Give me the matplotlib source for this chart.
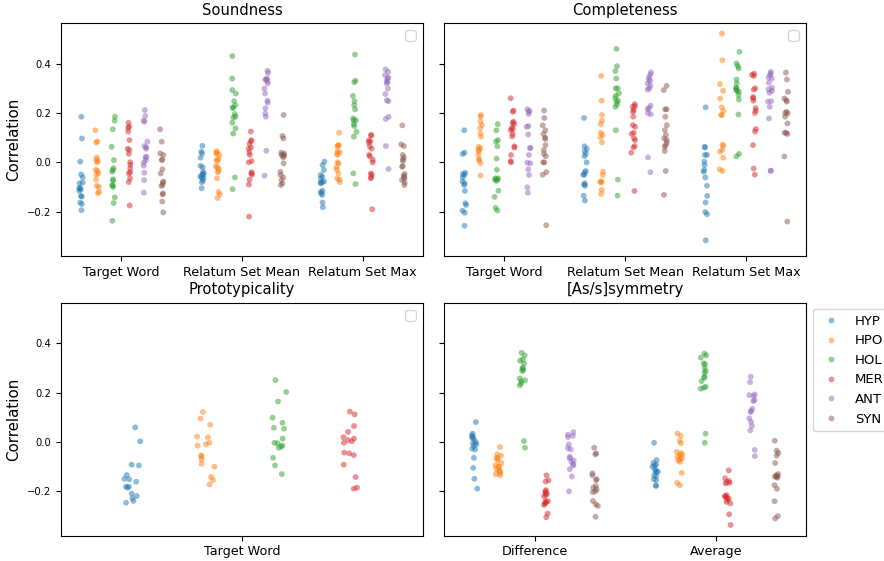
import matplotlib
matplotlib.use("Agg")
import matplotlib.pyplot as plt
import numpy as np
import pandas as pd
import seaborn as sns

relations = ["HYP", "HPO", "HOL", "MER", "ANT", "SYN"]

# Soundness
sound_target = {
    "HYP": [0.185, 0.097, 0.003, -0.049, -0.061, -0.082, -0.085, -0.103, -0.105, -0.11, -0.115, -0.136, -0.139, -0.163, -0.169, -0.194],
    "HPO": [0.13, 0.085, 0.08, 0.02, 0.01, 0.005, 0.0, -0.03, -0.035, -0.045, -0.05, -0.07, -0.095, -0.10, -0.12, -0.125],
    "HOL": [0.185, 0.169, 0.134, 0.063, 0.009, -0.024, -0.031, -0.038, -0.069, -0.074, -0.092, -0.094, -0.10, -0.142, -0.165, -0.237],
    "MER": [0.16, 0.145, 0.14, 0.125, 0.09, 0.055, 0.05, 0.035, 0.0, -0.01, -0.025, -0.04, -0.045, -0.065, -0.08, -0.175],
    "ANT": [0.212, 0.188, 0.169, 0.165, 0.084, 0.066, 0.061, 0.055, 0.023, 0.020, 0.009, -0.001, -0.014, -0.042, -0.072, -0.123],
    "SYN": [0.134, 0.084, 0.036, 0.03, 0.012, 0.009, -0.028, -0.045, -0.078, -0.082, -0.092, -0.095, -0.126, -0.130, -0.159, -0.203],
}
sound_mean = {
    "HYP": [0.067, 0.043, 0.036, 0.019, -0.014, -0.020, -0.038, -0.045, -0.05, -0.051, -0.058, -0.061, -0.065, -0.074, -0.081, -0.105],
    "HPO": [0.045, 0.04, 0.035, 0.03, 0.015, 0.01, 0.005, -0.015, -0.02, -0.025, -0.035, -0.04, -0.065, -0.12, -0.13, -0.145],
    "HOL": [0.431, 0.340, 0.293, 0.279, 0.248, 0.232, 0.223, 0.22, 0.196, 0.185, 0.182, 0.161, 0.138, 0.117, -0.061, -0.109],
    "MER": [0.125, 0.09, 0.085, 0.075, 0.06, 0.055, 0.04, 0.03, 0.005, 0.0, -0.04, -0.045, -0.05, -0.07, -0.09, -0.22],
    "ANT": [0.371, 0.363, 0.340, 0.336, 0.335, 0.33, 0.320, 0.299, 0.279, 0.250, 0.242, 0.219, 0.198, 0.185, 0.047, -0.054],
    "SYN": [0.192, 0.107, 0.097, 0.039, 0.036, 0.03, 0.030, 0.026, 0.02, -0.004, -0.038, -0.051, -0.061, -0.072, -0.085, -0.092],
}
sound_max = {
    "HYP": [0.003, -0.011, -0.031, -0.051, -0.058, -0.065, -0.078, -0.08, -0.082, -0.085, -0.115, -0.12, -0.126, -0.132, -0.163, -0.182],
    "HPO": [0.12, 0.07, 0.068, 0.065, 0.045, 0.04, 0.035, 0.03, 0.0, -0.005, -0.02, -0.03, -0.045, -0.065, -0.07, -0.08],
    "HOL": [0.437, 0.331, 0.325, 0.269, 0.248, 0.232, 0.215, 0.178, 0.171, 0.17, 0.155, 0.147, 0.124, 0.104, -0.045, -0.088],
    "MER": [0.11, 0.11, 0.09, 0.085, 0.08, 0.065, 0.055, 0.03, 0.025, 0.01, 0.0, -0.045, -0.05, -0.06, -0.065, -0.19],
    "ANT": [0.377, 0.367, 0.354, 0.344, 0.34, 0.331, 0.325, 0.320, 0.299, 0.277, 0.252, 0.248, 0.185, 0.176, 0.066, -0.027],
    "SYN": [0.150, 0.073, 0.066, 0.030, 0.020, 0.012, 0.005, -0.015, -0.018, -0.047, -0.055, -0.06, -0.065, -0.072, -0.082, -0.092],
}

# Completeness
compl_target = {
    "HYP": [0.130, 0.039, 0.034, -0.042, -0.047, -0.051, -0.061, -0.078, -0.085, -0.092, -0.116, -0.166, -0.173, -0.196, -0.204, -0.257],
    "HPO": [0.192, 0.185, 0.165, 0.151, 0.138, 0.117, 0.104, 0.063, 0.057, 0.050, 0.045, 0.030, 0.012, 0.009, -0.004, -0.054],
    "HOL": [0.155, 0.13, 0.09, 0.085, 0.065, 0.015, -0.03, -0.065, -0.065, -0.07, -0.07, -0.075, -0.115, -0.14, -0.185, -0.195],
    "MER": [0.26, 0.21, 0.205, 0.165, 0.16, 0.155, 0.14, 0.135, 0.13, 0.115, 0.105, 0.065, 0.06, 0.03, 0.005, 0.0],
    "ANT": [0.215, 0.209, 0.205, 0.196, 0.147, 0.144, 0.113, 0.059, 0.057, 0.030, -0.001, -0.004, -0.028, -0.051, -0.101, -0.123],
    "SYN": [0.21, 0.18, 0.15, 0.13, 0.115, 0.1, 0.095, 0.07, 0.05, 0.035, 0.025, 0.0, 0.0, -0.04, -0.05, -0.255],
}
compl_mean = {
    "HYP": [0.18, 0.065, 0.055, 0.045, 0.035, 0.025, 0.0, -0.035, -0.04, -0.05, -0.05, -0.085, -0.09, -0.095, -0.135, -0.155],
    "HPO": [0.351, 0.250, 0.192, 0.169, 0.155, 0.120, 0.111, 0.101, 0.081, -0.038, -0.051, -0.076, -0.08, -0.082, -0.112, -0.128],
    "HOL": [0.46, 0.39, 0.37, 0.34, 0.30, 0.30, 0.28, 0.27, 0.26, 0.25, 0.245, 0.235, 0.225, 0.13, -0.07, -0.135],
    "MER": [0.236, 0.228, 0.225, 0.212, 0.205, 0.185, 0.151, 0.144, 0.120, 0.115, 0.097, 0.090, 0.066, 0.061, 0.039, -0.116],
    "ANT": [0.365, 0.355, 0.345, 0.335, 0.33, 0.32, 0.31, 0.30, 0.295, 0.23, 0.22, 0.215, 0.20, 0.195, 0.02, -0.04],
    "SYN": [0.310, 0.293, 0.215, 0.215, 0.185, 0.151, 0.131, 0.111, 0.097, 0.090, 0.080, 0.07, 0.063, 0.046, -0.035, -0.132],
}
compl_max = {
    "HYP": [0.223, 0.063, 0.06, 0.030, 0.030, 0.003, -0.011, -0.031, -0.038, -0.061, -0.095, -0.136, -0.163, -0.202, -0.210, -0.316],
    "HPO": [0.522, 0.414, 0.317, 0.290, 0.259, 0.223, 0.209, 0.192, 0.192, 0.072, 0.066, 0.05, 0.043, 0.019, -0.028, -0.035],
    "HOL": [0.448, 0.401, 0.390, 0.381, 0.336, 0.320, 0.302, 0.300, 0.293, 0.29, 0.286, 0.273, 0.255, 0.194, 0.034, 0.024],
    "MER": [0.36, 0.355, 0.35, 0.30, 0.295, 0.265, 0.26, 0.25, 0.22, 0.21, 0.20, 0.135, 0.125, 0.07, -0.025, -0.05],
    "ANT": [0.367, 0.360, 0.354, 0.344, 0.34, 0.323, 0.302, 0.296, 0.29, 0.282, 0.248, 0.246, 0.225, 0.178, -0.034, -0.034],
    "SYN": [0.364, 0.336, 0.286, 0.259, 0.252, 0.246, 0.205, 0.2, 0.198, 0.185, 0.158, 0.12, 0.120, 0.115, 0.024, -0.240],
}

# Prototypicality (only four relations)
proto_target = {
    "HYP": [0.059, 0.003, -0.095, -0.092, -0.134, -0.151, -0.149, -0.161, -0.181, -0.185, -0.181, -0.209, -0.219, -0.228, -0.239, -0.246],
    "HPO": [0.122, 0.095, 0.070, 0.022, 0.019, -0.003, -0.009, -0.015, -0.054, -0.059, -0.070, -0.088, -0.100, -0.141, -0.154, -0.172],
    "HOL": [0.251, 0.203, 0.164, 0.099, 0.078, 0.058, 0.054, 0.014, -0.003, -0.005, -0.014, -0.019, -0.023, -0.064, -0.095, -0.130],
    "MER": [0.123, 0.112, 0.065, 0.041, 0.019, 0.014, 0.008, 0.003, -0.003, -0.043, -0.046, -0.053, -0.092, -0.142, -0.185, -0.189],
}

# [As/s]symmetry
asym_diff = {
    "HYP": [0.081, 0.034, 0.027, 0.020, 0.018, 0.01, 0.0, -0.005, -0.009, -0.014, -0.027, -0.030, -0.064, -0.105, -0.149, -0.189],
    "HPO": [-0.02, -0.05, -0.055, -0.065, -0.065, -0.075, -0.085, -0.095, -0.1, -0.1, -0.11, -0.115, -0.12, -0.125, -0.13, -0.135],
    "HOL": [0.362, 0.351, 0.335, 0.33, 0.318, 0.301, 0.297, 0.292, 0.288, 0.258, 0.250, 0.247, 0.238, 0.230, 0.004, -0.023],
    "MER": [-0.135, -0.155, -0.16, -0.195, -0.2, -0.205, -0.21, -0.215, -0.22, -0.24, -0.24, -0.245, -0.25, -0.255, -0.29, -0.305],
    "ANT": [0.04, 0.03, 0.025, 0.02, -0.01, -0.025, -0.03, -0.06, -0.065, -0.075, -0.08, -0.09, -0.095, -0.11, -0.14, -0.2],
    "SYN": [-0.023, -0.046, -0.050, -0.127, -0.135, -0.151, -0.154, -0.178, -0.185, -0.192, -0.199, -0.203, -0.239, -0.253, -0.259, -0.303],
}
asym_avg = {
    "HYP": [-0.003, -0.073, -0.084, -0.091, -0.095, -0.1, -0.111, -0.118, -0.12, -0.122, -0.135, -0.138, -0.151, -0.154, -0.176, -0.178],
    "HPO": [0.035, 0.025, 0.005, -0.005, -0.04, -0.045, -0.05, -0.055, -0.06, -0.065, -0.07, -0.075, -0.08, -0.125, -0.165, -0.175],
    "HOL": [0.359, 0.351, 0.342, 0.319, 0.315, 0.3, 0.288, 0.281, 0.265, 0.261, 0.247, 0.224, 0.220, 0.216, 0.034, -0.003],
    "MER": [-0.115, -0.147, -0.158, -0.162, -0.165, -0.168, -0.216, -0.219, -0.22, -0.226, -0.230, -0.235, -0.243, -0.249, -0.293, -0.336],
    "ANT": [0.265, 0.243, 0.193, 0.19, 0.186, 0.170, 0.166, 0.135, 0.126, 0.122, 0.096, 0.081, 0.065, 0.047, -0.032, -0.057],
    "SYN": [0.005, -0.035, -0.045, -0.055, -0.085, -0.13, -0.135, -0.14, -0.14, -0.14, -0.145, -0.175, -0.19, -0.24, -0.3, -0.31],
}

panels = [
    ("Soundness", {"Target Word": sound_target, "Relatum Set Mean": sound_mean, "Relatum Set Max": sound_max}),
    ("Completeness", {"Target Word": compl_target, "Relatum Set Mean": compl_mean, "Relatum Set Max": compl_max}),
    ("Prototypicality", {"Target Word": proto_target}),
    ("[As/s]symmetry", {"Difference": asym_diff, "Average": asym_avg}),
]


def to_frame(cats):
    rows = []
    for cat, groups in cats.items():
        for rel, vals in groups.items():
            for v in vals:
                rows.append((cat, rel, v))
    return pd.DataFrame(rows, columns=["measure", "relation", "corr"])


np.random.seed(3)
fig, axes = plt.subplots(2, 2, figsize=(8.84, 5.61), dpi=100, sharey=True)
fig.subplots_adjust(left=0.069, right=0.912, top=0.959, bottom=0.045, wspace=0.058, hspace=0.2)

for i, (ax, (title, cats)) in enumerate(zip(axes.flat, panels)):
    df = to_frame(cats)
    hue_order = [r for r in relations if r in df["relation"].unique()]
    sns.stripplot(data=df, x="measure", y="corr", hue="relation", order=list(cats.keys()),
                  hue_order=hue_order, dodge=True, jitter=True, alpha=0.5, size=4.2,
                  linewidth=0, ax=ax, legend=(i == 3))
    ax.set_title(title, fontsize=10.6)
    ax.set_xlabel("")
    ax.set_ylabel("Correlation" if i % 2 == 0 else "", fontsize=10.8)
    ax.tick_params(axis="x", labelsize=9.2)
    ax.tick_params(axis="y", labelsize=7.2)
    if i == 3:
        h, l = ax.get_legend_handles_labels()
        ax.legend(h, l, loc="upper left", bbox_to_anchor=(1.0, 1.0), fontsize=9.5)
    else:
        ax.legend(handles=[], loc="upper right")

axes[0, 0].set_ylim(-0.38, 0.565)

plt.savefig("out.png", dpi=100)
